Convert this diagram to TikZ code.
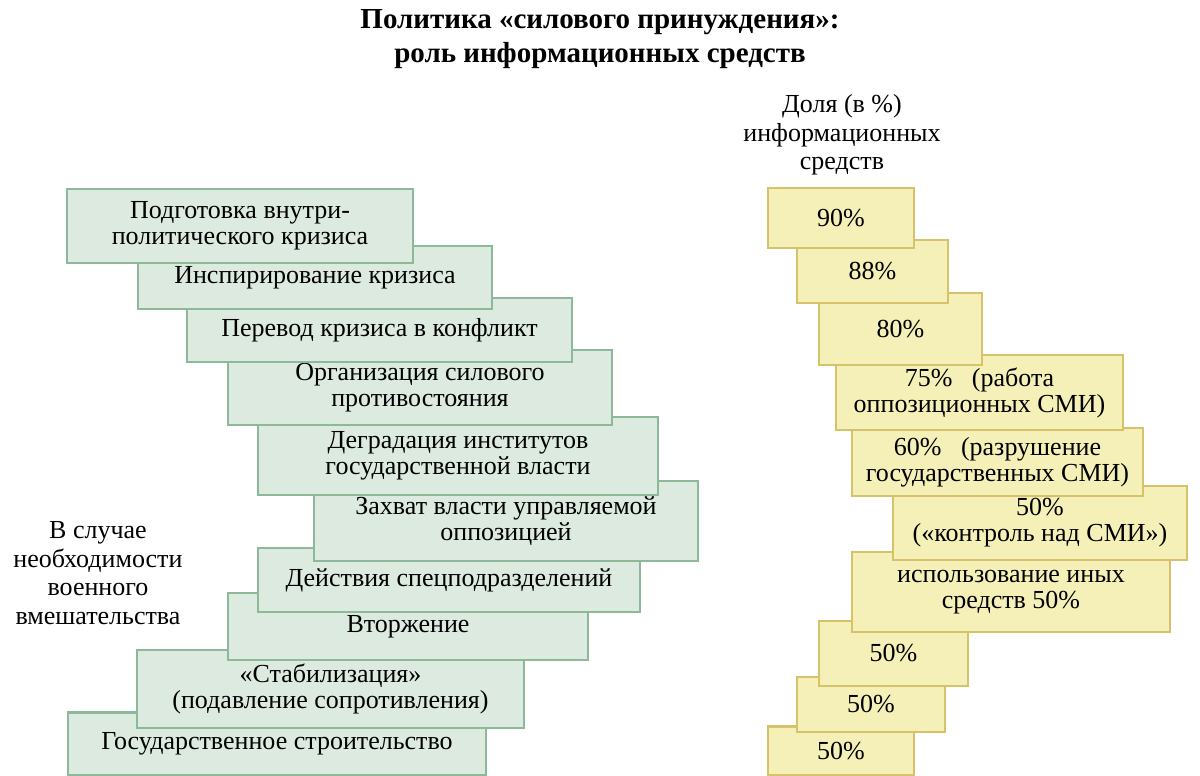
\documentclass[tikz,border=0pt]{standalone}
\usepackage{fontspec}
\setmainfont{Liberation Serif}
\definecolor{gfill}{HTML}{DCEADF}
\definecolor{gline}{HTML}{8DB89A}
\definecolor{yfill}{HTML}{F4F0B8}
\definecolor{yline}{HTML}{D5C26A}
\begin{document}
\begin{tikzpicture}[x=1pt,y=-1pt,
  base/.style={line width=2.2pt,inner sep=0pt,align=center,font=\fontsize{26}{26}\selectfont},
  gbox/.style={base,draw=gline,fill=gfill},
  ybox/.style={base,draw=yline,fill=yfill},
  lbl/.style={align=center,inner sep=0pt,font=\fontsize{26}{28.5}\selectfont}]
\useasboundingbox (0,0) rectangle (1200,776);
\node[align=center,inner sep=0pt,font=\fontsize{29}{34}\selectfont\bfseries] (title) at (600,39) {Политика «силового принуждения»:\\роль информационных средств};
% left column (drawn bottom-up so earlier boxes lie on top)
\node[gbox,minimum width=418,minimum height=63] (l10) at (277,744) {Государственное строительство};
\node[gbox,minimum width=387,minimum height=78] (l9) at (330.5,689) {«Стабилизация»\\(подавление сопротивления)};
\node[gbox,minimum width=360,minimum height=67] (l8) at (408,626.5) {Вторжение};
\node[gbox,minimum width=382,minimum height=64] (l7) at (449,580) {Действия спецподразделений};
\node[gbox,minimum width=384,minimum height=80] (l6) at (506,521) {Захват власти управляемой\\оппозицией};
\node[gbox,minimum width=400,minimum height=78] (l5) at (458,456) {Деградация институтов\\государственной власти};
\node[gbox,minimum width=384,minimum height=75] (l4) at (420,387.5) {Организация силового\\противостояния};
\node[gbox,minimum width=385,minimum height=64] (l3) at (379.5,330) {Перевод кризиса в конфликт};
\node[gbox,minimum width=354,minimum height=63] (l2) at (315,277.5) {Инспирирование кризиса};
\node[gbox,minimum width=346,minimum height=74] (l1) at (240,226) {Подготовка внутри-\\политического кризиса};
\node[lbl] (side) at (98,573) {В случае\\необходимости\\военного\\вмешательства};
% right column
\node[lbl] (head) at (842,135) {Доля (в \%)\\информационных\\средств};
\node[ybox,minimum width=146,minimum height=49] (r10) at (841,751) {50\%};
\node[ybox,minimum width=148,minimum height=55] (r9) at (871,704.5) {50\%};
\node[ybox,minimum width=149,minimum height=65] (r8) at (893.5,653.5) {50\%};
\node[ybox,minimum width=318,minimum height=80] (r7) at (1011,592) {использование иных\\средств 50\%};
\node[ybox,minimum width=294,minimum height=74] (r6) at (1040,523) {50\%\\(«контроль над СМИ»)};
\node[ybox,minimum width=291,minimum height=68] (r5) at (997.5,462) {60\%\ \ \ (разрушение\\государственных СМИ)};
\node[ybox,minimum width=287,minimum height=75] (r4) at (979.5,392.5) {75\%\ \ \ (работа\\оппозиционных СМИ)};
\node[ybox,minimum width=163,minimum height=72] (r3) at (900.5,329) {80\%};
\node[ybox,minimum width=151,minimum height=63] (r2) at (872.5,271.5) {88\%};
\node[ybox,minimum width=146,minimum height=60] (r1) at (841,218) {90\%};
\end{tikzpicture}
\end{document}
